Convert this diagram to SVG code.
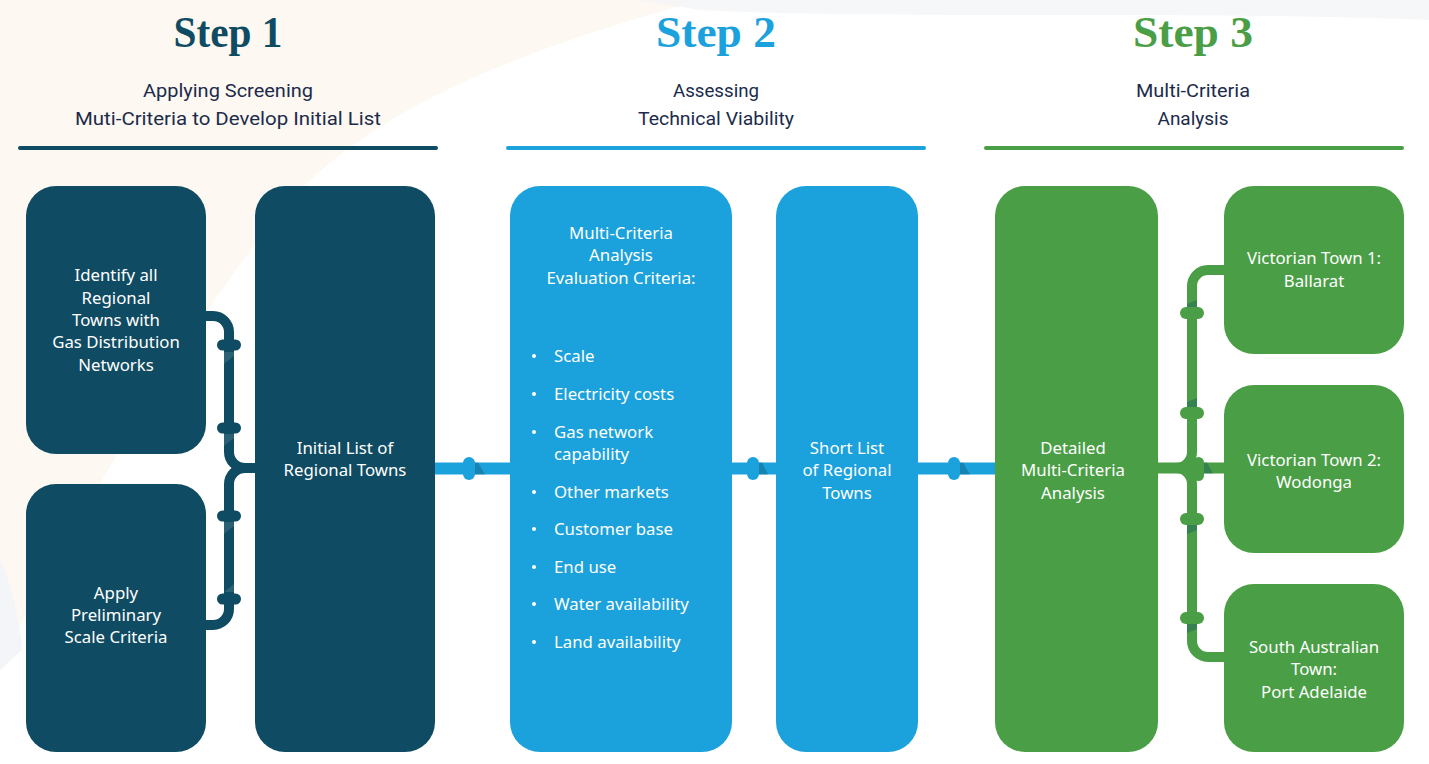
<svg xmlns="http://www.w3.org/2000/svg" width="1429" height="764" viewBox="0 0 1429 764">
<defs>
<style>
.title{font-family:"Liberation Serif","DejaVu Serif",serif;font-weight:bold;font-size:44px;text-anchor:middle}
.sub{font-family:Roboto,"Liberation Sans",sans-serif;font-size:19px;fill:#1c2b4b;text-anchor:middle}
.bt{font-family:"Noto Sans",Lato,sans-serif;font-size:16.8px;fill:#ffffff;text-anchor:middle}
.bl{font-family:"Noto Sans",Lato,sans-serif;font-size:16.8px;fill:#ffffff}
.dot{fill:#ffffff}
.dk{fill:#0f4b62}.bu{fill:#1ba1db}.gr{fill:#4a9e45}
.pdk{fill:none;stroke:#0f4b62;stroke-width:10}
.pgr{fill:none;stroke:#4a9e45;stroke-width:10}
.hl{fill:#ffffff;opacity:0.12}
.sh{fill:#0f4b62;opacity:0.35}
</style>
</defs>
<rect width="1429" height="764" fill="#ffffff"/>
<path d="M0,0 H700 C560,40 400,90 300,190 C200,300 90,500 0,660 Z" fill="#fdf8f1"/>
<path d="M640,0 H1429 V20 C1200,10 900,20 700,10 Z" fill="#f4f5f8" opacity="0.8"/>
<path d="M0,560 C10,580 20,620 22,650 L0,670 Z" fill="#f3f5f9"/>

<g id="header1">
<text class="title dk" x="228" y="47" textLength="109" lengthAdjust="spacingAndGlyphs">Step 1</text>
<text class="sub" x="228" y="97" textLength="170" lengthAdjust="spacingAndGlyphs">Applying Screening</text>
<text class="sub" x="228" y="125" textLength="306" lengthAdjust="spacingAndGlyphs">Muti-Criteria to Develop Initial List</text>
<rect x="18" y="146" width="420" height="4" rx="2" class="dk"/>
</g>
<g id="header2">
<text class="title bu" x="716" y="47" textLength="120" lengthAdjust="spacingAndGlyphs">Step 2</text>
<text class="sub" x="716" y="97" textLength="86" lengthAdjust="spacingAndGlyphs">Assessing</text>
<text class="sub" x="716" y="125" textLength="156" lengthAdjust="spacingAndGlyphs">Technical Viability</text>
<rect x="506" y="146" width="420" height="4" rx="2" class="bu"/>
</g>
<g id="header3">
<text class="title gr" x="1193" y="47" textLength="120" lengthAdjust="spacingAndGlyphs">Step 3</text>
<text class="sub" x="1193" y="97" textLength="114" lengthAdjust="spacingAndGlyphs">Multi-Criteria</text>
<text class="sub" x="1193" y="125" textLength="71" lengthAdjust="spacingAndGlyphs">Analysis</text>
<rect x="984" y="146" width="420" height="4" rx="2" class="gr"/>
</g>

<g id="connectors">
<path class="pdk" d="M205,316 H213 A16,16 0 0 1 229,332 V452 A16,16 0 0 0 245,468 H256"/>
<path class="pdk" d="M256,468 H245 A16,16 0 0 0 229,484 V609 A16,16 0 0 1 213,625 H205"/>
<rect x="217" y="339.5" width="24" height="11" rx="5.5" class="dk"/>
<rect x="217" y="422.5" width="24" height="11" rx="5.5" class="dk"/>
<rect x="217" y="510.5" width="24" height="11" rx="5.5" class="dk"/>
<rect x="217" y="593.5" width="24" height="11" rx="5.5" class="dk"/>
<polygon class="hl" points="224,352 234,352 234,356 224,364"/>
<polygon class="hl" points="224,434 234,434 234,438 224,446"/>
<polygon class="hl" points="224,522 234,522 234,526 224,534"/>
<polygon class="hl" points="224,592 234,584 234,592"/>

<rect x="434" y="462.5" width="77" height="12" class="bu"/>
<polygon class="sh" points="474,462.5 478,462.5 485,474.5 474,474.5"/>
<rect x="463" y="457" width="12" height="23" rx="6" class="bu"/>
<rect x="731" y="462.5" width="46" height="12" class="bu"/>
<polygon class="sh" points="759,462.5 762,462.5 768,474.5 759,474.5"/>
<rect x="747" y="457" width="12" height="23" rx="6" class="bu"/>
<rect x="917" y="462.5" width="79" height="12" class="bu"/>
<polygon class="sh" points="959,462.5 963,462.5 970,474.5 959,474.5"/>
<rect x="948" y="457" width="12" height="23" rx="6" class="bu"/>

<rect x="1157" y="462.5" width="68" height="11" class="gr"/>
<path class="pgr" d="M1225,270 H1208 A16,16 0 0 0 1192,286 V452 A16,16 0 0 1 1176,468 H1170"/>
<path class="pgr" d="M1170,468 H1176 A16,16 0 0 1 1192,484 V641 A16,16 0 0 0 1208,657 H1225"/>
<polygon class="sh" points="1187,304 1197,300 1197,308 1187,308"/>
<polygon class="sh" points="1187,402 1197,398 1197,407 1187,407"/>
<polygon class="sh" points="1187,525 1197,525 1197,530 1187,534"/>
<polygon class="sh" points="1187,624 1197,624 1197,629 1187,633"/>
<polygon class="sh" points="1204,462.5 1207,462.5 1213,473.5 1204,473.5"/>
<rect x="1180" y="307" width="24" height="12" rx="6" class="gr"/>
<rect x="1180" y="407" width="24" height="12" rx="6" class="gr"/>
<rect x="1180" y="513" width="24" height="12" rx="6" class="gr"/>
<rect x="1180" y="612" width="24" height="12" rx="6" class="gr"/>
<rect x="1193" y="457" width="11" height="24" rx="5.5" class="gr"/>
</g>

<g id="identify">
<rect x="26" y="186" width="180" height="268" rx="30" class="dk"/>
<text class="bt" x="116" y="281">Identify all</text>
<text class="bt" x="116" y="304">Regional</text>
<text class="bt" x="116" y="326">Towns with</text>
<text class="bt" x="116" y="348">Gas Distribution</text>
<text class="bt" x="116" y="371">Networks</text>
</g>
<g id="apply">
<rect x="26" y="484" width="180" height="268" rx="30" class="dk"/>
<text class="bt" x="116" y="599">Apply</text>
<text class="bt" x="116" y="621">Preliminary</text>
<text class="bt" x="116" y="643">Scale Criteria</text>
</g>
<g id="initial">
<rect x="255" y="186" width="180" height="566" rx="30" class="dk"/>
<text class="bt" x="345" y="454">Initial List of</text>
<text class="bt" x="345" y="476">Regional Towns</text>
</g>
<g id="criteria">
<rect x="510" y="186" width="222" height="566" rx="30" class="bu"/>
<text class="bt" x="621" y="239">Multi-Criteria</text>
<text class="bt" x="621" y="261">Analysis</text>
<text class="bt" x="621" y="284">Evaluation Criteria:</text>
<g class="dot">
<circle cx="534" cy="356" r="2"/>
<circle cx="534" cy="394" r="2"/>
<circle cx="534" cy="432" r="2"/>
<circle cx="534" cy="492" r="2"/>
<circle cx="534" cy="529" r="2"/>
<circle cx="534" cy="567" r="2"/>
<circle cx="534" cy="604" r="2"/>
<circle cx="534" cy="642" r="2"/>
</g>
<g class="bl">
<text x="554" y="362">Scale</text>
<text x="554" y="400">Electricity costs</text>
<text x="554" y="438">Gas network</text>
<text x="554" y="460">capability</text>
<text x="554" y="498">Other markets</text>
<text x="554" y="535">Customer base</text>
<text x="554" y="573">End use</text>
<text x="554" y="610">Water availability</text>
<text x="554" y="648">Land availability</text>
</g>
</g>
<g id="shortlist">
<rect x="776" y="186" width="142" height="566" rx="30" class="bu"/>
<text class="bt" x="847" y="454">Short List</text>
<text class="bt" x="847" y="476">of Regional</text>
<text class="bt" x="847" y="499">Towns</text>
</g>
<g id="detailed">
<rect x="995" y="186" width="163" height="566" rx="30" class="gr"/>
<text class="bt" x="1073" y="454">Detailed</text>
<text class="bt" x="1073" y="476">Multi-Criteria</text>
<text class="bt" x="1073" y="499">Analysis</text>
</g>
<g id="ballarat">
<rect x="1224" y="186" width="180" height="168" rx="30" class="gr"/>
<text class="bt" x="1314" y="264">Victorian Town 1:</text>
<text class="bt" x="1314" y="287">Ballarat</text>
</g>
<g id="wodonga">
<rect x="1224" y="385" width="180" height="168" rx="30" class="gr"/>
<text class="bt" x="1314" y="466">Victorian Town 2:</text>
<text class="bt" x="1314" y="488">Wodonga</text>
</g>
<g id="portadelaide">
<rect x="1224" y="584" width="180" height="168" rx="30" class="gr"/>
<text class="bt" x="1314" y="653">South Australian</text>
<text class="bt" x="1314" y="675">Town:</text>
<text class="bt" x="1314" y="698">Port Adelaide</text>
</g>
</svg>
